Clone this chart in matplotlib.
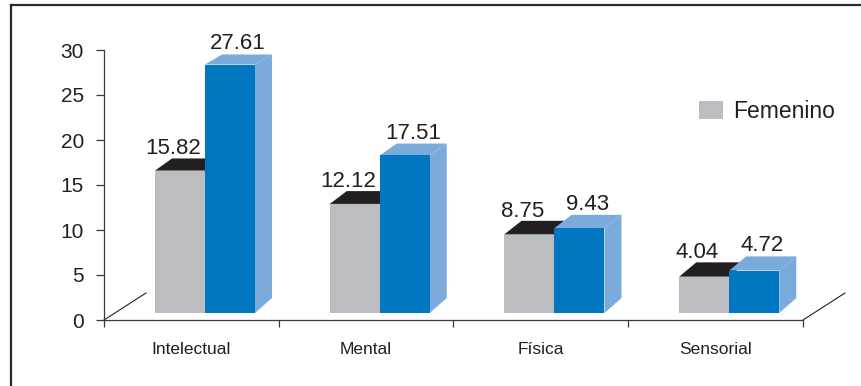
import matplotlib
matplotlib.use("Agg")
import matplotlib.pyplot as plt
from matplotlib.patches import Polygon, Patch
from matplotlib.lines import Line2D

plt.rcParams['font.family'] = ['Liberation Sans', 'DejaVu Sans']

categories = ["Intelectual", "Mental", "Física", "Sensorial"]
femenino = [15.82, 12.12, 8.75, 4.04]
masculino = [27.61, 17.51, 9.43, 4.72]
yticks = [0, 5, 10, 15, 20, 25, 30]

TEXT = "#231f20"
GRAY_FRONT = "#bcbdc0"
GRAY_TOP = "#231f20"
BLUE_FRONT = "#0077c0"
BLUE_SIDE = "#7aabdb"

W, H, DPI = 862, 386, 100
fig = plt.figure(figsize=(W / DPI, H / DPI), dpi=DPI)

# plot area in pixels
x0, x1, y0, y1 = 104, 803, 320, 50
ax = fig.add_axes([x0 / W, (H - y0) / H, (x1 - x0) / W, (y0 - y1) / H])
n = len(categories)
ymax = 30
ax.set_xlim(0, n)
ax.set_ylim(0, ymax)

# pixel -> data unit conversion
px_x = n / (x1 - x0)
px_y = ymax / (y0 - y1)

# axes styling
for s in ("top", "right"):
    ax.spines[s].set_visible(False)
for s in ("left", "bottom"):
    ax.spines[s].set_color("#3a3a3a")
    ax.spines[s].set_linewidth(0.9)
ax.set_yticks(yticks)
ax.set_yticklabels([str(t) for t in yticks], fontsize=15, color=TEXT)
ax.tick_params(axis="y", direction="out", length=5.5, width=0.9, color="#3a3a3a", pad=9)
ax.set_xticks(range(n + 1))
ax.set_xticklabels([])
ax.tick_params(axis="x", direction="out", length=5, width=0.9, color="#3a3a3a")
ax.patch.set_alpha(0)

# floor depth lines
floor_dx, floor_dy = 42 * px_x, 27 * px_y
for xe in (0, n):
    ax.add_line(Line2D([xe, xe + floor_dx], [0, floor_dy], color="#222222",
                       lw=0.8, clip_on=False))

# bar geometry (in pixels, converted to data)
bar_w = 50 * px_x
bar_off = 51 * px_x
base = 7 * px_y
dx = 17 * px_x


def depth_up(v):
    # vertical depth offset in data units (slight perspective)
    h_px = v / px_y
    return (15 - 0.02 * h_px) * px_y


for i, (cat, g, b) in enumerate(zip(categories, femenino, masculino)):
    gl = i + bar_off
    gr = gl + bar_w
    bl = gr
    br = bl + bar_w
    # gray bar
    gt = base + g
    dgt = depth_up(g)
    ax.add_patch(Polygon([(gl, base), (gr, base), (gr, gt), (gl, gt)],
                         closed=True, fc=GRAY_FRONT, ec="none", clip_on=False))
    ax.add_patch(Polygon([(gl, gt), (gl + dx, gt + dgt), (gr + dx, gt + dgt), (gr, gt)],
                         closed=True, fc=GRAY_TOP, ec="none", clip_on=False))
    # blue bar
    bt = base + b
    dbb = depth_up(0)
    dbt = depth_up(b)
    ax.add_patch(Polygon([(br, base), (br + dx, base + dbb), (br + dx, bt + dbt), (br, bt)],
                         closed=True, fc=BLUE_SIDE, ec="none", clip_on=False))
    ax.add_patch(Polygon([(bl, bt), (bl + dx, bt + dbt), (br + dx, bt + dbt), (br, bt)],
                         closed=True, fc=BLUE_SIDE, ec="none", clip_on=False))
    ax.add_patch(Polygon([(bl, base), (br, base), (br, bt), (bl, bt)],
                         closed=True, fc=BLUE_FRONT, ec="none", clip_on=False))
    # value labels
    ax.text((gl + gr) / 2 - 7 * px_x, gt + dgt + 4 * px_y, f"{g:.2f}",
            ha="center", va="baseline", fontsize=16, color=TEXT)
    ax.text((bl + br) / 2 + 8 * px_x, bt + dbt + 5 * px_y, f"{b:.2f}",
            ha="center", va="baseline", fontsize=16, color=TEXT)
    # category label
    ax.text(i + 0.5, -22 * px_y, cat, ha="center", va="top", fontsize=12.5,
            color=TEXT, clip_on=False)

# legend
fig.legend(handles=[Patch(facecolor=GRAY_FRONT, edgecolor="none", label="Femenino")],
           loc="center left", bbox_to_anchor=(699 / W, (H - 111) / H),
           frameon=False, fontsize=16.5, handlelength=1.05, handleheight=0.83,
           handletextpad=0.45, borderpad=0, borderaxespad=0, labelcolor=TEXT)

# outer frame (top and left edges)
fig.add_artist(Line2D([11.5 / W, 1.0], [(H - 4.5) / H, (H - 4.5) / H],
                      transform=fig.transFigure, color="#2a2a2a", lw=1.6))
fig.add_artist(Line2D([11.5 / W, 11.5 / W], [0, (H - 4.5) / H],
                      transform=fig.transFigure, color="#2a2a2a", lw=1.6))

fig.savefig("out.png", dpi=DPI)
